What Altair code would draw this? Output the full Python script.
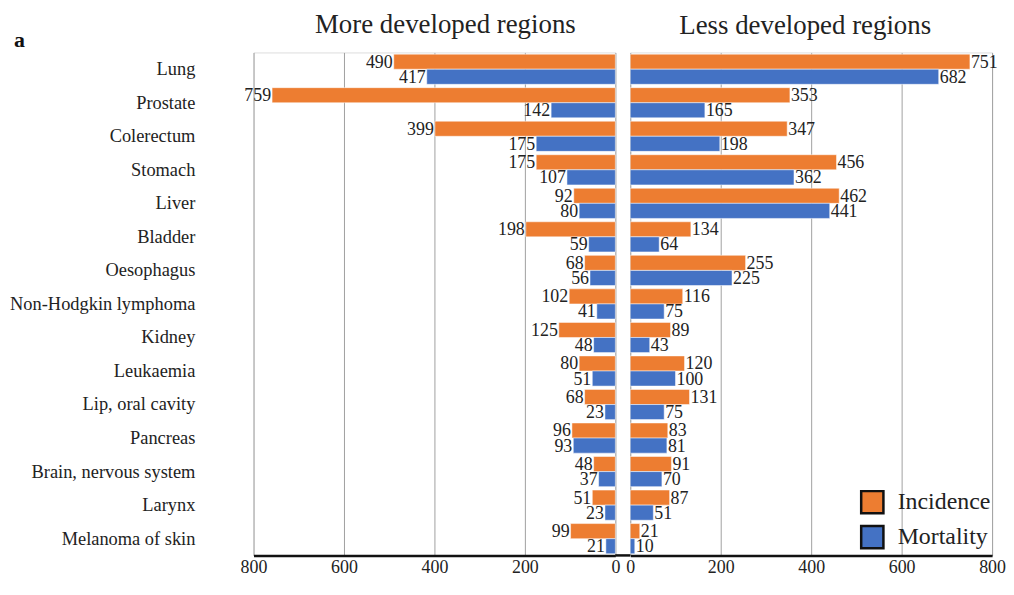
import altair as alt
import pandas as pd

cancers = ["Lung", "Prostate", "Colerectum", "Stomach", "Liver", "Bladder", "Oesophagus",
           "Non-Hodgkin lymphoma", "Kidney", "Leukaemia", "Lip, oral cavity", "Pancreas",
           "Brain, nervous system", "Larynx", "Melanoma of skin"]
more_incidence = [490, 759, 399, 175, 92, 198, 68, 102, 125, 80, 68, 96, 48, 51, 99]
more_mortality = [417, 142, 175, 107, 80, 59, 56, 41, 48, 51, 23, 93, 37, 23, 21]
less_incidence = [751, 353, 347, 456, 462, 134, 255, 116, 89, 120, 131, 83, 91, 87, 21]
less_mortality = [682, 165, 198, 362, 441, 64, 225, 75, 43, 100, 75, 81, 70, 51, 10]
measures = ["Incidence", "Mortality"]
colors = ["#ED7D31", "#4472C4"]
ticks = [0, 200, 400, 600, 800]

rows = []
for i, c in enumerate(cancers):
    rows.append(dict(cancer=c, region="more", measure="Incidence", value=more_incidence[i]))
    rows.append(dict(cancer=c, region="more", measure="Mortality", value=more_mortality[i]))
    rows.append(dict(cancer=c, region="less", measure="Incidence", value=less_incidence[i]))
    rows.append(dict(cancer=c, region="less", measure="Mortality", value=less_mortality[i]))
df = pd.DataFrame(rows)
df_more = df[df.region == "more"]
df_less = df[df.region == "less"]

FONT = "'Liberation Serif', 'Times New Roman', serif"
W, H = 364, 506

color = alt.Color("measure:N", sort=measures,
                  scale=alt.Scale(domain=measures, range=colors),
                  legend=alt.Legend(title=None, orient="none", legendX=610, legendY=440,
                                    symbolType="square", symbolSize=500, symbolStrokeColor="#111",
                                    symbolStrokeWidth=2.5, symbolOpacity=1, labelFont=FONT,
                                    labelFontSize=24, labelColor="#222", rowPadding=2,
                                    labelOffset=13))
yoff = alt.YOffset("measure:N", sort=measures)


def ychan(show_axis):
    if show_axis:
        ax = alt.Axis(title=None, ticks=False, domain=False, labelPadding=59, labelFont=FONT,
                      labelFontSize=18.5, labelColor="#222", grid=False, labelLimit=400)
    else:
        ax = None
    return alt.Y("cancer:N", sort=cancers,
                 scale=alt.Scale(paddingInner=0.1, paddingOuter=0.05), axis=ax)


def xchan(rev):
    return alt.X("value:Q", scale=alt.Scale(domain=[0, 800], reverse=rev, nice=False),
                 axis=alt.Axis(values=ticks, title=None, ticks=False, labelPadding=3,
                               labelFlush=False, labelFont=FONT, labelFontSize=18,
                               labelColor="#222", domainColor="#111", domainWidth=2.5,
                               gridColor="#a0a0a0", gridWidth=1))


title_style = dict(font=FONT, fontSize=27, fontWeight="normal", color="#222", frame="group")

left_bars = alt.Chart(df_more).mark_bar(stroke="white", strokeWidth=0.5).encode(
    y=ychan(True), yOffset=yoff, x=xchan(True), color=color)
left_text = alt.Chart(df_more).mark_text(align="right", baseline="middle", dx=-1, dy=1,
                                         font=FONT, fontSize=18, color="#222").encode(
    y=ychan(True), yOffset=yoff, x=xchan(True), text="value:Q")
a_label = alt.Chart(pd.DataFrame({"t": ["a"]})).mark_text(
    align="left", baseline="alphabetic", font=FONT, fontSize=22, fontWeight="bold",
    color="#111").encode(text="t:N", x=alt.value(-241), y=alt.value(-5))
left = alt.layer(left_bars, left_text, a_label).properties(
    width=W, height=H,
    title=alt.TitleParams("More developed regions", dx=11, offset=-9, **title_style))

right_bars = alt.Chart(df_less).mark_bar(stroke="white", strokeWidth=0.5).encode(
    y=ychan(False), yOffset=yoff, x=xchan(False), color=color)
right_text = alt.Chart(df_less).mark_text(align="left", baseline="middle", dx=1, dy=1,
                                          font=FONT, fontSize=18, color="#222").encode(
    y=ychan(False), yOffset=yoff, x=xchan(False), text="value:Q")
gap_rule = alt.Chart(pd.DataFrame({"k": [0]})).mark_rule(color="#111", strokeWidth=2.5).encode(
    x=alt.value(-15), x2=alt.value(0), y=alt.value(H))
right = alt.layer(right_bars, right_text, gap_rule).properties(
    width=W, height=H,
    title=alt.TitleParams("Less developed regions", dx=-6, offset=13, **title_style))

chart = alt.hconcat(left, right, spacing=15, bounds="flush").resolve_scale(
    color="shared").properties(
    padding={"left": 0, "right": 0, "top": 0, "bottom": 0}).configure_view(
    stroke=None).configure(background="white")

chart.save("out.html", embed_options={"renderer": "svg", "actions": False})
